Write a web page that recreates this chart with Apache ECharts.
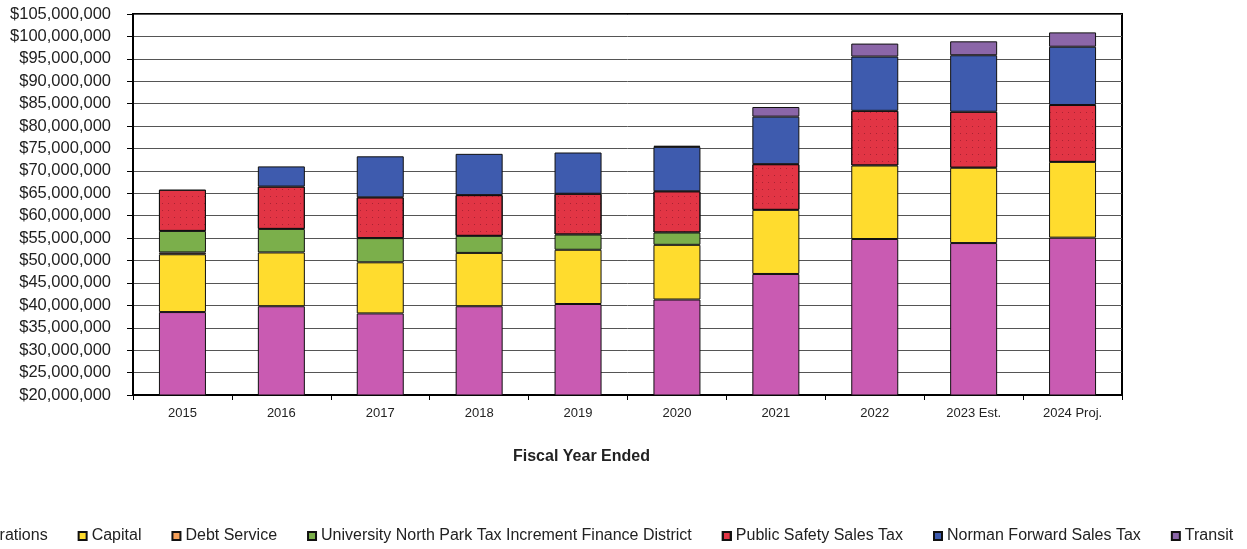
<!DOCTYPE html>
<html>
<head>
<meta charset="utf-8">
<script src="https://cdn.jsdelivr.net/npm/echarts@6/dist/echarts.min.js"></script>
<style>
html,body{margin:0;padding:0;background:#fff;}
#chart{width:1247px;height:549px;}
</style>
</head>
<body>
<div id="chart"></div>
<script>
// Values in millions of dollars
var categories = ['2015','2016','2017','2018','2019','2020','2021','2022','2023 Est.','2024 Proj.'];
var operations   = [38.5, 39.8, 38.2, 39.8, 40.3, 41.3, 47.0, 54.8, 53.9, 55.1];
var capital      = [12.9, 12.0, 11.4, 11.9, 12.1, 12.2, 14.3, 16.4, 16.8, 16.9];
var debtService  = [0.4, null, null, null, null, null, null, null, null, null];
var universityNP = [4.8, 5.25, 5.4, 3.8, 3.4, 2.75, null, null, null, null];
var publicSafety = [9.2, 9.45, 9.1, 9.1, 9.1, 9.2, 10.2, 12.2, 12.5, 12.7];
var normanForward= [null, 4.5, 9.15, 9.2, 9.2, 9.9, 10.6, 12.1, 12.6, 13.0];
var transit      = [null, null, null, null, null, 0.25, 2.15, 2.9, 3.1, 3.2];
var yTicks = {min: 20, max: 105, interval: 5};

var FONT = '"Liberation Sans", Arial, sans-serif';
function fmt(v){ return '$' + Math.round(v*1e6).toString().replace(/\B(?=(\d{3})+(?!\d))/g, ','); }

function mk(name, data, color, decal){
  var s = {
    name: name, type: 'bar', stack: 'total', data: data, barWidth: 47,
    itemStyle: {color: color, borderColor: '#111', borderWidth: 1},
    emphasis: {disabled: true}
  };
  if (decal) s.itemStyle.decal = decal;
  return s;
}

var chart = echarts.init(document.getElementById('chart'), null, {renderer: 'canvas'});
chart.setOption({
  animation: false,
  backgroundColor: '#fff',
  textStyle: {fontFamily: FONT},
  title: {
    text: 'Fiscal Year Ended', left: 508, top: 444,
    textStyle: {fontSize: 16, fontWeight: 'bold', color: '#222', fontFamily: FONT}
  },
  grid: {left: 133, right: 125, top: 14, bottom: 154, show: true, borderColor: '#000', borderWidth: 2, backgroundColor: 'transparent'},
  legend: {
    left: -111, top: 523, icon: 'rect', itemWidth: 8, itemHeight: 8, itemGap: 30,
    textStyle: {fontSize: 16, color: '#222', fontFamily: FONT},
    selectedMode: false
  },
  xAxis: {
    type: 'category', data: categories,
    axisLine: {lineStyle: {color: '#000', width: 2}},
    axisTick: {show: true, alignWithLabel: false, length: 5, lineStyle: {color: '#000'}},
    axisLabel: {fontSize: 13, color: '#222', margin: 12, fontFamily: FONT},
    splitLine: {show: false}
  },
  yAxis: {
    type: 'value', min: yTicks.min, max: yTicks.max, interval: yTicks.interval,
    axisLine: {show: true, lineStyle: {color: '#000', width: 2}},
    axisTick: {show: true, length: 6, lineStyle: {color: '#000'}},
    axisLabel: {fontSize: 16.5, color: '#222', margin: 22, formatter: fmt, fontFamily: FONT},
    splitLine: {show: true, lineStyle: {color: '#555', width: 1}}
  },
  series: [
    mk('General Operations', operations, '#C95BB2'),
    mk('Capital', capital, '#FFDC2E'),
    mk('Debt Service', debtService, '#F5A05A'),
    mk('University North Park Tax Increment Finance District', universityNP, '#7BAF4B'),
    mk('Public Safety Sales Tax', publicSafety, '#E23545', {
      symbol: 'rect', symbolSize: 1, color: 'rgba(70,0,15,0.35)',
      dashArrayX: [1, 5], dashArrayY: [1, 6], rotation: 0
    }),
    mk('Norman Forward Sales Tax', normanForward, '#3E5BAE'),
    mk('Transit', transit, '#8B66A8')
  ]
});
</script>
</body>
</html>
